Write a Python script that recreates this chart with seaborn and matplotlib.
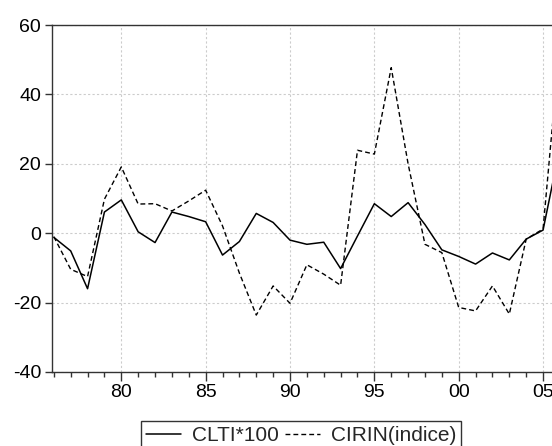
import numpy as np
import pandas as pd
import matplotlib
matplotlib.use("Agg")
import matplotlib.pyplot as plt
import seaborn as sns
from matplotlib.ticker import MultipleLocator, FixedLocator, FuncFormatter

years = list(range(1976, 2007))
clti = [-1.2, -5.1, -16.0, 6.1, 9.6, 0.4, -2.7, 6.1, 4.8, 3.3, -6.3, -2.4, 5.7, 3.1,
        -2.0, -3.2, -2.6, -10.2, -0.8, 8.5, 4.8, 8.8, 2.5, -4.8, -6.7, -8.9, -5.7, -7.7,
        -1.7, 0.9, 24.7]
cirin = [-1.0, -10.4, -12.5, 9.8, 19.1, 8.4, 8.5, 6.4, 9.3, 12.4, 2.1, -11.5, -23.6, -15.2,
         -20.2, -9.1, -11.8, -15.0, 23.9, 22.8, 47.7, 20.0, -3.2, -5.6, -21.4, -22.4, -15.2, -23.3,
         -1.7, 1.2, 55.0]
labels = ["CLTI*100", "CIRIN(indice)"]

df = pd.DataFrame({"year": years * 2,
                   "value": clti + cirin,
                   "series": [labels[0]] * len(years) + [labels[1]] * len(years)})

sns.set_style("white")
plt.rcParams["font.family"] = ["Liberation Sans", "DejaVu Sans"]
plt.rcParams["axes.unicode_minus"] = False

fig = plt.figure(figsize=(5.52, 4.46), dpi=100)
ax = fig.add_axes([52.3 / 552, 1 - 372 / 446, 1 - 52.3 / 552, (372 - 25) / 446])

sns.lineplot(data=df[df.series == labels[0]], x="year", y="value", ax=ax,
             color="black", linewidth=1.1, label=labels[0])
sns.lineplot(data=df[df.series == labels[1]], x="year", y="value", ax=ax,
             color="black", linewidth=1.0, linestyle=(0, (3.5, 2.2)), label=labels[1])

ax.set_xlim(1975.91, 2005.53)
ax.set_ylim(-40, 60)
ax.set_xlabel("")
ax.set_ylabel("")

ax.xaxis.set_major_locator(FixedLocator([1980, 1985, 1990, 1995, 2000, 2005]))
ax.xaxis.set_minor_locator(MultipleLocator(1))
ax.xaxis.set_major_formatter(FuncFormatter(lambda v, p: f"{int(round(v)) % 100:02d}"))
ax.yaxis.set_major_locator(MultipleLocator(20))

ax.grid(True, which="major", color="#cccccc", linestyle=(0, (2, 2)), linewidth=0.8)
for s in ["left", "top", "bottom"]:
    ax.spines[s].set_visible(True)
    ax.spines[s].set_color("#333333")
    ax.spines[s].set_linewidth(1.0)
ax.spines["right"].set_visible(False)

ax.tick_params(axis="x", which="major", direction="out", length=6.3, width=1, labelsize=14,
               colors="#333333", labelcolor="black", pad=2, bottom=True)
ax.tick_params(axis="x", which="minor", direction="out", length=3.4, width=1,
               colors="#333333", bottom=True)
ax.tick_params(axis="y", which="major", direction="out", length=5, width=1, labelsize=14,
               colors="#333333", labelcolor="black", pad=3, left=True)

ax.get_legend().remove()
handles, labs = ax.get_legend_handles_labels()
leg = fig.legend(handles, labs, loc="upper left", bbox_to_anchor=(140.7 / 552, 1 - 421 / 446),
                 bbox_transform=fig.transFigure, ncol=2, frameon=True, fancybox=False,
                 fontsize=15, handlelength=1.7, handletextpad=0.5, columnspacing=0.3,
                 borderpad=0.25, borderaxespad=0)
leg.get_frame().set_edgecolor("black")
leg.get_frame().set_linewidth(1.0)

fig.savefig("out.png", dpi=100)
